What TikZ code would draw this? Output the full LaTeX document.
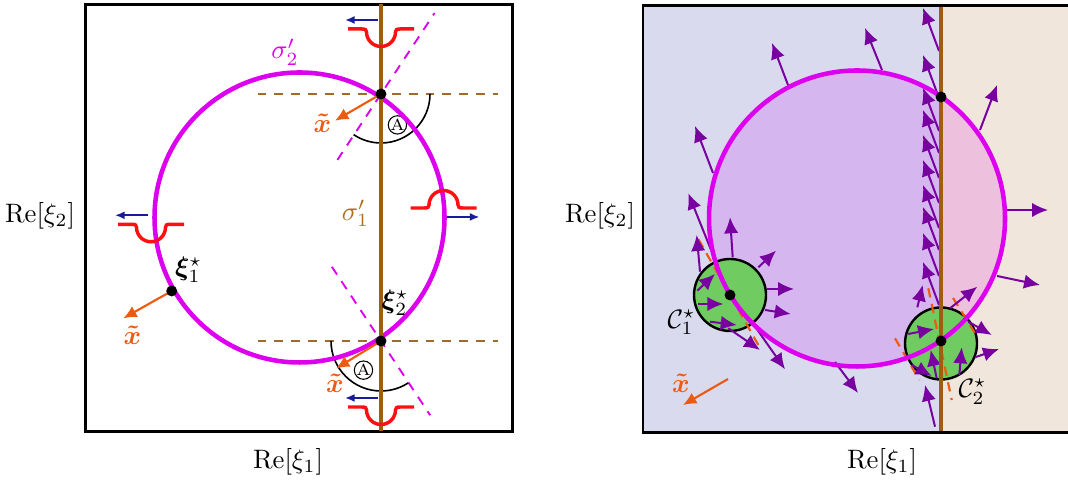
\documentclass[tikz,border=0pt]{standalone}
\usepackage{amsmath}
\usepackage{bm}
\usepackage{tikz}
\usetikzlibrary{arrows.meta}
\definecolor{ContMagenta}{HTML}{DD00EE}
\definecolor{ContBrown}{HTML}{9C5F10}
\definecolor{ContBrownText}{HTML}{A8701E}
\definecolor{ContBrownDash}{HTML}{A06A2A}
\definecolor{ContOrange}{HTML}{EE5A10}
\definecolor{ContRed}{HTML}{FF1010}
\definecolor{ContNavy}{HTML}{1A1A9E}
\definecolor{ContPurple}{HTML}{7800A0}
\definecolor{ContGreen}{HTML}{70CC60}
\definecolor{BgLeft}{HTML}{DADAEE}
\definecolor{BgRight}{HTML}{F0E6DC}
\definecolor{FillLeft}{HTML}{D6B6EE}
\definecolor{FillRight}{HTML}{EDC1DD}
\tikzset{
  dip/.pic={
    \draw[ContRed,line width=1.3pt] (-33,0) -- (-19,0)
      .. controls (-15.5,0) and (-14.5,-1) .. (-14.5,-3) arc (180:360:14.5)
      .. controls (14.5,-1) and (15.5,0) .. (19,0) -- (33,0);
    \draw[shiftarrow] (-3,9) -- (-36,9);
  }
}

\begin{document}
\begin{tikzpicture}[
  x=0.375pt,y=0.375pt,
  frame/.style={draw=black,line width=0.8pt},
  sigmaone/.style={draw=ContBrown,line width=1.5pt},
  sigmatwo/.style={draw=ContMagenta,line width=1.7pt},
  level/.style={draw=ContBrownDash,line width=0.7pt,dash pattern=on 3.3pt off 3pt},
  ray/.style={draw=ContMagenta,line width=0.7pt,dash pattern=on 3.5pt off 3pt},
  tangent/.style={draw=ContOrange,line width=0.8pt,dash pattern=on 3.5pt off 2.5pt},
  saddle/.style={circle,fill=black,inner sep=0pt,minimum size=4.1pt},
  xdir/.style={-{Latex[length=5pt,width=4.6pt]},draw=ContOrange,line width=0.8pt},
  xlabel/.style={text=ContOrange,inner sep=0pt},
  lab/.style={inner sep=0pt},
  flow/.style={-{Latex[length=6pt,width=5.4pt]},draw=ContPurple,line width=0.75pt},
  shiftarrow/.style={-{Latex[length=3.6pt,width=3pt]},draw=ContNavy,line width=0.7pt},
  angmark/.style={circle,draw,inner sep=0pt,minimum size=6.6pt,font=\fontsize{6}{6}\selectfont},
  region/.style={draw=black,fill=ContGreen,line width=0.9pt}
]
\useasboundingbox (0,0) rectangle (1068,482);

% left panel: contours sigma'_1, sigma'_2
\begin{scope}[shift={(299.5,264.5)}]
\draw[frame] (-214,-214) rectangle (213,213);
\coordinate (xi2u) at (81.5,123.5);
\coordinate (xi2l) at (81.5,-123.5);
\coordinate (xi1) at (-127.8,-73.5);
\draw[level] (-42,123.5) -- (198,123.5);
\draw[level] (-42,-123.5) -- (198,-123.5);
\draw[ray] (xi2u) ++(236.5:79) -- ++(56.5:176);
\draw[ray] (xi2l) ++(123.5:89) -- ++(-56.5:178);
\draw[line width=0.6pt] (xi2u) ++(0:49) arc (0:-124:49);
\draw[line width=0.6pt] (xi2l) ++(180:50) arc (180:303:50);
\path (xi2u) ++(-62:35) node[angmark] (angu) {A};
\path (xi2l) ++(239:34) node[angmark] (angl) {A};
\draw[sigmatwo] (0,0) circle (145);
\draw[sigmaone] (81.5,-214) -- (81.5,213);
\draw[xdir] (xi2u) -- (35.5,96.8);
\draw[xdir] (xi2l) -- (36.5,-151);
\draw[xdir] (xi1) -- (-176.2,-100.8);
\node[saddle] (dotu) at (xi2u) {};
\node[saddle] (dotl) at (xi2l) {};
\node[saddle] (dot1) at (xi1) {};
\node[xlabel] (xtu) at (23,94.5) {$\bm{\tilde{x}}$};
\node[xlabel] (xtl) at (35.5,-166) {$\bm{\tilde{x}}$};
\node[xlabel] (xt1) at (-167,-117.5) {$\bm{\tilde{x}}$};
\node[lab,text=ContMagenta] (sig2) at (-14.5,165.5) {$\sigma'_2$};
\node[lab,text=ContBrownText] (sig1) at (56,4) {$\sigma'_1$};
\node[lab] (xi1lab) at (-111,-52.5) {$\bm{\xi}^\star_1$};
\node[lab] (xi2lab) at (95.5,-85.5) {$\bm{\xi}^\star_2$};
\pic at (81.5,188.5) {dip};
\pic at (81.5,-189.5) {dip};
\pic at (-148.5,-6.8) {dip};
\pic[rotate=180] at (144,9.5) {dip};
\node[lab] (rexi2l) at (-259.5,1.5) {$\mathrm{Re}[\xi_2]$};
\node[lab] (rexi1l) at (-11.5,-244.5) {$\mathrm{Re}[\xi_1]$};
\end{scope}

% right panel: flow of the integrand and the regions C_1, C_2
\begin{scope}[shift={(857,263.5)}]
\fill[BgLeft] (-214,-214) rectangle (84,213);
\fill[BgRight] (84,-214) rectangle (215,213);
\begin{scope}
\clip (0,0) circle (148);
\fill[FillLeft] (-150,-150) rectangle (84,150);
\fill[FillRight] (84,-150) rectangle (150,150);
\end{scope}
\coordinate (c1) at (-127,-76.5);
\coordinate (c2) at (84,-122.5);
\draw[region] (c1) circle (36);
\draw[region] (84,-125) circle (36);
\draw[tangent] (c1) ++(119.5:64) -- ++(-60.5:124);
\draw[tangent] (38,-119.8) -- (62.3,-161.5);
\draw[tangent] (71.3,-69.8) -- (94.7,-181.5);
\draw[tangent] (96,-79.5) -- (121,-119.5);
% flow along sigma'_1
\draw[flow] (82,167.5) -- (66,210.5);
\draw[flow] (82,120.5) -- (66,163.5);
\draw[flow] (82,87.5) -- (66,130.5);
\draw[flow] (82,65.5) -- (66,108.5);
\draw[flow] (82,40.5) -- (66,83.5);
\draw[flow] (82,15.5) -- (66,58.5);
\draw[flow] (82,-9.5) -- (66,33.5);
\draw[flow] (82,-31.5) -- (66,11.5);
\draw[flow] (82,-57.5) -- (66,-14.5);
\draw[flow] (82,-86.5) -- (66,-43.5);
\draw[flow] (78,-208.2) -- (68,-166.5);
% flow along sigma'_2
\draw[flow] (-69,133.5) -- (-85,175.5);
\draw[flow] (25,148.5) -- (8,190.5);
\draw[flow] (123,88.5) -- (140,133.5);
\draw[flow] (150,8.5) -- (191,8.5);
\draw[flow] (140,-57.5) -- (183,-66.5);
\draw[flow] (-144,45.5) -- (-162,92.5);
\draw[flow] (-145.3,-33.2) -- (-168.7,25.2);
\draw[flow] (-105.3,-103.2) -- (-72,-150.8);
\draw[flow] (-22,-143.5) -- (1,-174.5);
% flow on C_1
\draw[flow] (-157,-53.2) -- (-160.3,-16.5);
\draw[flow] (-124.3,-38.8) -- (-127,1.2);
\draw[flow] (-98.7,-48.8) -- (-81,-32.2);
\draw[flow] (-89.7,-70.5) -- (-63,-70.5);
\draw[flow] (-92,-91.5) -- (-66.3,-95.5);
\draw[flow] (-159.7,-72.2) -- (-142,-55.5);
\draw[flow] (-158.7,-85.5) -- (-133.7,-85.5);
\draw[flow] (-147,-103.2) -- (-120.3,-106.5);
\draw[flow] (-128.7,-109.8) -- (-97,-131.5);
% flow on C_2
\draw[flow] (93,-89.8) -- (120.3,-68.2);
\draw[flow] (111.3,-103.2) -- (134.7,-116.5);
\draw[flow] (118,-138.8) -- (142,-130.5);
\draw[flow] (51.3,-115.5) -- (77,-110.5);
\draw[flow] (60.3,-88.8) -- (65.7,-66.5);
\draw[flow] (102.3,-156.5) -- (104.7,-128.8);
\draw[flow] (54.7,-146.5) -- (74.7,-157.5);
\draw[flow] (79.7,-159.8) -- (73.7,-131.5);
\draw[sigmatwo] (0,0) circle (148);
\draw[sigmaone] (84,-214) -- (84,213);
\node[saddle] (dotc1) at (c1) {};
\node[saddle] (dotc2) at (c2) {};
\node[saddle] (dotr) at (84,121.5) {};
\node[lab] (c1lab) at (-175.5,-104) {$\mathcal{C}^\star_1$};
\node[lab] (c2lab) at (115.5,-173.2) {$\mathcal{C}^\star_2$};
\coordinate (xt0) at (-129,-160.5);
\draw[xdir] (xt0) -- (-174,-186.5);
\node[xlabel] (xtr) at (-176,-164.5) {$\bm{\tilde{x}}$};
\draw[frame] (-214,-214) rectangle (215,213);
\node[lab] (rexi2r) at (-257,2.5) {$\mathrm{Re}[\xi_2]$};
\node[lab] (rexi1r) at (25,-243.5) {$\mathrm{Re}[\xi_1]$};
\end{scope}
\end{tikzpicture}
\end{document}
